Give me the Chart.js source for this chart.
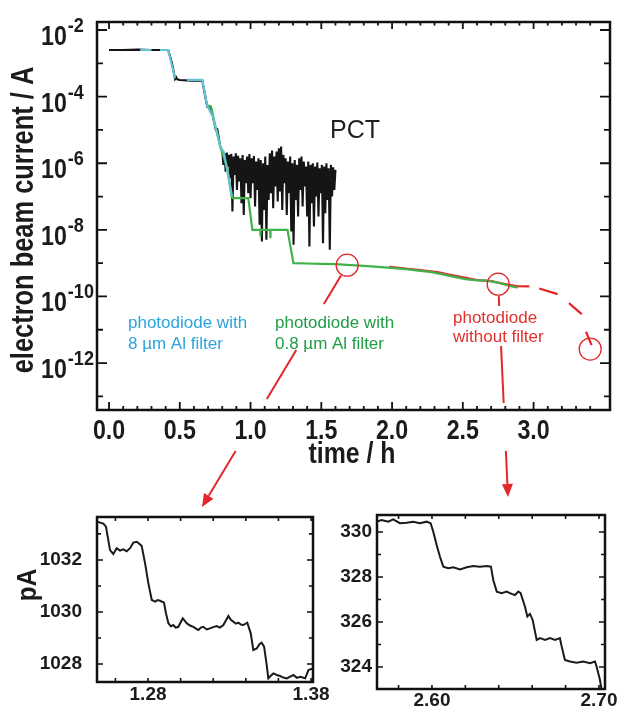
<!DOCTYPE html>
<html>
<head>
<meta charset="utf-8">
<script src="https://cdn.jsdelivr.net/npm/chart.js@4.4.1/dist/chart.umd.min.js"></script>
<style>
  html, body { margin: 0; padding: 0; background: #fff; }
  #wrap { position: relative; width: 618px; height: 708px; overflow: hidden; }
  canvas { position: absolute; }
</style>
</head>
<body>
<div id="wrap">
  <canvas id="main" width="618" height="708" style="left:0;top:0"></canvas>
  <canvas id="zoomA" width="330" height="208" style="left:0;top:500px"></canvas>
  <canvas id="zoomB" width="288" height="208" style="left:330px;top:500px"></canvas>
</div>
<script>
// main plot: time in h, current as power of ten (A)
const pctTime = [0.00, 0.10, 0.20, 0.30, 0.418, 0.445, 0.467, 0.475, 0.482, 0.50, 0.58, 0.659, 0.680, 0.694, 0.715, 0.735, 0.755, 0.765, 0.772, 0.786,
  0.800, 0.808, 0.816, 0.824, 0.832, 0.840, 0.848, 0.856, 0.864, 0.872, 0.880, 0.888, 0.896, 0.904, 0.912, 0.920, 0.928, 0.936, 0.944, 0.952,
  0.960, 0.968, 0.976, 0.984, 0.992, 1.000, 1.008, 1.016, 1.024, 1.032, 1.040, 1.048, 1.056, 1.064, 1.072, 1.080, 1.088, 1.096, 1.104, 1.112,
  1.120, 1.128, 1.136, 1.144, 1.152, 1.160, 1.168, 1.176, 1.184, 1.192, 1.200, 1.208, 1.216, 1.224, 1.232, 1.240, 1.248, 1.256, 1.264, 1.272,
  1.280, 1.288, 1.296, 1.304, 1.312, 1.320, 1.328, 1.336, 1.344, 1.352, 1.360, 1.368, 1.376, 1.384, 1.392, 1.400, 1.408, 1.416, 1.424, 1.432,
  1.440, 1.448, 1.456, 1.464, 1.472, 1.480, 1.488, 1.496, 1.504, 1.512, 1.520, 1.528, 1.536, 1.544, 1.552, 1.560, 1.568, 1.576, 1.584, 1.592, 1.600];
const pctExp = [-2.60, -2.60, -2.59, -2.60, -2.60, -3.00, -3.47, -3.42, -3.48, -3.50, -3.52, -3.52, -4.00, -4.30, -4.30, -4.62, -5.00, -4.98, -5.15, -5.50,
  -5.62, -6.05, -5.70, -6.25, -5.68, -6.10, -5.75, -6.45, -5.72, -7.45, -5.80, -6.35, -5.70, -6.80, -5.78, -6.55, -5.85, -7.20, -5.75, -7.55,
  -5.90, -6.60, -5.80, -6.90, -5.72, -7.05, -5.85, -6.60, -5.78, -7.30, -5.95, -6.80, -5.85, -7.85, -5.90, -8.35, -6.00, -7.40, -5.80, -8.30,
  -6.05, -7.10, -5.70, -6.90, -5.62, -7.35, -5.80, -6.70, -5.65, -7.15, -5.55, -6.85, -5.50, -7.40, -5.75, -6.60, -5.85, -7.55, -5.95, -6.90,
  -5.80, -8.05, -6.00, -8.45, -5.90, -7.10, -6.05, -7.60, -5.85, -6.80, -5.80, -7.30, -5.95, -6.70, -6.10, -7.60, -5.95, -8.50, -6.05, -7.20,
  -6.00, -7.90, -6.10, -7.00, -5.98, -7.60, -6.15, -6.90, -6.05, -8.40, -6.10, -7.50, -6.00, -7.10, -6.15, -8.60, -6.05, -7.00, -6.12, -6.80, -6.20];

const diode8Time = [0.22, 0.30, 0.31, 0.36, 0.418, 0.467, 0.47, 0.55, 0.659, 0.694, 0.735, 0.758, 0.786, 0.800, 0.810, 0.843, 0.869];
const diode8Exp  = [-2.60, -2.60, null, -2.60, -2.60, -3.45, null, -3.50, -3.50, -4.28, -4.62, -5.00, -5.50, -5.60, -5.65, -6.40, -7.00];

const diode08Time = [0.690, 0.720, 0.758, 0.786, 0.836, 0.866, 0.875, 0.984, 1.013, 1.068, 1.070, 1.072, 1.138, 1.140, 1.142, 1.261, 1.303,
  1.40, 1.50, 1.60, 1.683, 1.80, 1.90, 1.99, 2.10, 2.20, 2.27, 2.35, 2.44, 2.52, 2.58, 2.67, 2.72, 2.77, 2.82, 2.86, 2.89];
const diode08Exp  = [-4.25, -4.30, -5.00, -5.50, -6.15, -7.00, -7.05, -7.05, -8.00, -8.00, -8.20, -8.00, -8.00, -8.25, -8.00, -8.00, -9.00,
  -9.01, -9.02, -9.03, -9.05, -9.08, -9.11, -9.14, -9.18, -9.23, -9.26, -9.33, -9.41, -9.48, -9.51, -9.52, -9.56, -9.61, -9.67, -9.71, -9.73];

const noFilterTime = [1.98, 2.05, 2.11, 2.20, 2.32, 2.41, 2.53, 2.60, 2.70, 2.80, 2.88, 2.97];
const noFilterExp  = [-9.11, -9.14, -9.17, -9.21, -9.27, -9.35, -9.45, -9.51, -9.54, -9.63, -9.69, -9.70];
const noFilterTailTime = [2.97, 3.04, 3.17, 3.25, 3.34, 3.37, 3.41];
const noFilterTailExp  = [-9.70, -9.76, -9.93, -10.20, -10.53, -11.06, -11.46];

const circleTime = [1.683, 2.75, 3.40];
const circleExp  = [-9.06, -9.63, -11.58];

const xTickValues = [0, 0.5, 1.0, 1.5, 2.0, 2.5, 3.0];
const xTickLabels = ['0.0', '0.5', '1.0', '1.5', '2.0', '2.5', '3.0'];
const yTickExps = [-2, -4, -6, -8, -10, -12];

// insets: time in h, current in pA
const zoomATime = [1.2487, 1.2526, 1.2542, 1.2567, 1.2587, 1.2608, 1.2628, 1.2648, 1.2669, 1.2690, 1.2710, 1.2731, 1.2746, 1.2761, 1.2782,
  1.2802, 1.2823, 1.2843, 1.2859, 1.2874, 1.2898, 1.2910, 1.2925, 1.2940, 1.2955, 1.2970, 1.2986, 1.3013, 1.3037, 1.3058, 1.3078, 1.3094,
  1.3109, 1.3124, 1.3139, 1.3160, 1.3180, 1.3200, 1.3221, 1.3241, 1.3262, 1.3293, 1.3308, 1.3323, 1.3339, 1.3354, 1.3370, 1.3385, 1.3409,
  1.3430, 1.3446, 1.3467, 1.3482, 1.3497, 1.3512, 1.3528, 1.3538, 1.3553, 1.3569, 1.3590, 1.3610, 1.3630, 1.3651, 1.3672, 1.3692, 1.3713,
  1.3733, 1.3749, 1.3764, 1.3784, 1.3811];
const zoomAPA = [1033.47, 1033.40, 1033.28, 1032.38, 1032.23, 1032.45, 1032.36, 1032.41, 1032.33, 1032.45, 1032.67, 1032.70, 1032.62, 1032.54, 1031.87,
  1031.10, 1030.46, 1030.40, 1030.46, 1030.43, 1030.36, 1029.95, 1029.57, 1029.45, 1029.50, 1029.40, 1029.43, 1029.76, 1029.57, 1029.48, 1029.43, 1029.36,
  1029.31, 1029.40, 1029.43, 1029.33, 1029.37, 1029.42, 1029.46, 1029.40, 1029.50, 1029.85, 1029.70, 1029.63, 1029.55, 1029.59, 1029.52, 1029.50, 1029.59,
  1029.18, 1028.54, 1028.60, 1028.75, 1028.82, 1028.67, 1027.96, 1027.45, 1027.55, 1027.64, 1027.58, 1027.54, 1027.48, 1027.45, 1027.52, 1027.58, 1027.47,
  1027.51, 1027.48, 1027.45, 1027.77, 1027.83];
const zoomATickX = [1.28, 1.38];
const zoomATickLabels = ['1.28', '1.38'];
const zoomATickY = [1028, 1030, 1032];

const zoomBTime = [2.5669, 2.5699, 2.5738, 2.5768, 2.5808, 2.5848, 2.5888, 2.5928, 2.5968, 2.5992,
  2.6008, 2.6028, 2.6048, 2.6068, 2.6098, 2.6128, 2.6168, 2.6208, 2.6247, 2.6287,
  2.6328, 2.6353, 2.6367, 2.6388, 2.6417, 2.6447, 2.6477, 2.6497, 2.6517, 2.6531,
  2.6557, 2.6571, 2.6587, 2.6603, 2.6627, 2.6647, 2.6677, 2.6707, 2.6737, 2.6766,
  2.6777, 2.6796, 2.6826, 2.6866, 2.6906, 2.6946, 2.6976, 2.6986, 2.7006, 2.7016];
const zoomBPA = [330.46, 330.53, 330.46, 330.56, 330.39, 330.41, 330.46, 330.39, 330.46, 330.39,
  330.01, 329.42, 328.90, 328.46, 328.39, 328.43, 328.34, 328.43, 328.49, 328.46,
  328.49, 328.46, 327.87, 327.35, 327.28, 327.35, 327.25, 327.20, 327.35, 327.28,
  326.68, 326.24, 326.36, 326.09, 325.20, 325.28, 325.20, 325.28, 325.20, 325.28,
  324.90, 324.31, 324.24, 324.19, 324.24, 324.17, 324.24, 324.01, 323.42, 322.98];
const zoomBTickX = [2.60, 2.70];
const zoomBTickLabels = ['2.60', '2.70'];
const zoomBTickY = [324, 326, 328, 330];

const FAM = '"Liberation Sans", Arial, sans-serif';
const RED = '#e3262b';
const INK = '#1c1a1a';

const logPts = (xs, es) => xs.map((x, i) => ({ x, y: es[i] == null ? null : Math.pow(10, es[i]) }));
const linPts = (xs, ys) => xs.map((x, i) => ({ x, y: ys[i] }));

function txt(ctx, s, x, y, font, o = {}) {
  ctx.save();
  ctx.font = font;
  ctx.fillStyle = o.color || INK;
  ctx.textAlign = o.align || 'left';
  ctx.textBaseline = o.base || 'alphabetic';
  ctx.translate(x, y);
  if (o.rot) ctx.rotate(o.rot);
  ctx.scale(o.sx || 1, 1);
  ctx.fillText(s, 0, 0);
  ctx.restore();
}

function arrow(ctx, x0, y0, x1, y1, gaps) {
  const dx = x1 - x0, dy = y1 - y0, L = Math.hypot(dx, dy);
  const ux = dx / L, uy = dy / L, head = 13, w = 5.5;
  const xe = x1 - ux * head, ye = y1 - uy * head;
  let segs = [[y0, ye]];
  gaps.forEach(([g0, g1]) => {
    segs = segs.flatMap(([s0, s1]) => {
      if (g1 <= s0 || g0 >= s1) return [[s0, s1]];
      const out = [];
      if (g0 > s0) out.push([s0, g0]);
      if (g1 < s1) out.push([g1, s1]);
      return out;
    });
  });
  const xAt = yy => x0 + dx * (yy - y0) / dy;
  ctx.beginPath();
  segs.forEach(([s0, s1]) => { ctx.moveTo(xAt(s0), s0); ctx.lineTo(xAt(s1), s1); });
  ctx.stroke();
  ctx.beginPath();
  ctx.moveTo(x1, y1);
  ctx.lineTo(xe - uy * w, ye + ux * w);
  ctx.lineTo(xe + uy * w, ye - ux * w);
  ctx.closePath();
  ctx.fill();
}

const mainDecor = {
  id: 'mainDecor',
  afterDraw(chart) {
    const { ctx, chartArea: a, scales: { x, y } } = chart;
    ctx.save();
    // red circles and arrows
    ctx.strokeStyle = RED; ctx.fillStyle = RED; ctx.lineWidth = 1.3;
    const cx = circleTime.map(t => x.getPixelForValue(t));
    const cy = circleExp.map(e => y.getPixelForValue(Math.pow(10, e)));
    cx.forEach((px, i) => { ctx.beginPath(); ctx.arc(px, cy[i], 11, 0, Math.PI * 2); ctx.stroke(); });
    ctx.lineWidth = 2;
    const tips = [[202, 507, [[304, 350], [399, 451]]], [508, 497, [[306, 346], [403, 451]]]];
    tips.forEach(([tx, ty, gaps], i) => {
      const d = Math.hypot(tx - cx[i], ty - cy[i]);
      arrow(ctx, cx[i] + (tx - cx[i]) / d * 12, cy[i] + (ty - cy[i]) / d * 12, tx, ty, gaps);
    });

    // frame and inward ticks
    ctx.strokeStyle = '#111'; ctx.lineWidth = 2.5;
    ctx.strokeRect(a.left, a.top, a.right - a.left, a.bottom - a.top);
    ctx.lineWidth = 1.8;
    ctx.beginPath();
    for (let k = 0; k <= 34; k++) {
      const px = x.getPixelForValue(k / 10), major = k % 5 === 0;
      ctx.moveTo(px, a.bottom); ctx.lineTo(px, a.bottom - (major ? 8 : 4));
      ctx.moveTo(px, a.top); ctx.lineTo(px, a.top + (major ? 7 : 3.5));
    }
    for (let e = -2; e >= -13; e--) {
      const py = y.getPixelForValue(Math.pow(10, e)), len = e % 2 === 0 ? 10 : 6;
      ctx.moveTo(a.left, py); ctx.lineTo(a.left + len, py);
      ctx.moveTo(a.right, py); ctx.lineTo(a.right - len, py);
    }
    ctx.stroke();
    ctx.restore();

    // tick labels
    xTickValues.forEach((v, i) => {
      txt(ctx, xTickLabels[i], x.getPixelForValue(v), 439, `bold 27px ${FAM}`, { align: 'center', sx: 0.86 });
    });
    yTickExps.forEach(e => {
      const py = y.getPixelForValue(Math.pow(10, e));
      ctx.font = `bold 27px ${FAM}`;
      const w = ctx.measureText('10').width * 0.86;
      txt(ctx, '10', 41, py + 15, `bold 27px ${FAM}`, { sx: 0.86 });
      txt(ctx, String(e), 42 + w, py + 2, `bold 21px ${FAM}`, { sx: 0.86 });
    });

    // axis titles
    txt(ctx, 'time / h', 352, 463, `bold 30px ${FAM}`, { align: 'center', sx: 0.83 });
    txt(ctx, 'electron beam current / A', 33, 220, `bold 31px ${FAM}`, { align: 'center', rot: -Math.PI / 2, sx: 0.82 });

    // annotations
    txt(ctx, 'PCT', 330, 138, `25px ${FAM}`, { color: '#231f20' });
    const cyanT = '#2aa5de', greenT = '#1f9d45', redT = '#e2302d';
    txt(ctx, 'photodiode with', 128, 328, `17px ${FAM}`, { color: cyanT });
    txt(ctx, '8 \u00b5m Al filter', 128, 349, `17px ${FAM}`, { color: cyanT });
    txt(ctx, 'photodiode with', 275, 328, `17px ${FAM}`, { color: greenT });
    txt(ctx, '0.8 \u00b5m Al filter', 275, 349, `17px ${FAM}`, { color: greenT });
    txt(ctx, 'photodiode', 453, 323, `17px ${FAM}`, { color: redT });
    txt(ctx, 'without filter', 453, 342, `17px ${FAM}`, { color: redT });
  }
};

const lineDs = (data, color, width, extra = {}) => Object.assign({
  data, borderColor: color, borderWidth: width, pointRadius: 0, fill: false, tension: 0, spanGaps: false
}, extra);

new Chart(document.getElementById('main'), {
  type: 'line',
  data: {
    datasets: [
      lineDs(logPts(diode8Time, diode8Exp), '#63c4d8', 2.2),
      lineDs(logPts(diode08Time, diode08Exp), '#3fb34a', 2.2),
      lineDs(logPts(noFilterTime, noFilterExp), RED, 2.2),
      lineDs(logPts(noFilterTailTime, noFilterTailExp), RED, 2.2, {
        segment: { borderColor: c => (c.p0DataIndex % 2 === 0 ? 'rgba(0,0,0,0)' : RED) }
      }),
      lineDs(logPts(pctTime, pctExp), '#151515', 2.1)
    ]
  },
  options: {
    responsive: false,
    animation: false,
    events: [],
    layout: { padding: { left: 97, right: 8, top: 22, bottom: 298 } },
    scales: {
      x: { type: 'linear', min: -0.085, max: 3.54, display: false },
      y: { type: 'logarithmic', min: 3.9e-14, max: 1.74e-2, display: false }
    },
    plugins: { legend: { display: false }, tooltip: { enabled: false } }
  },
  plugins: [mainDecor]
});

function insetDecor(id, cfg) {
  return {
    id,
    afterDraw(chart) {
      const { ctx, chartArea: a, scales: { x, y } } = chart;
      ctx.save();
      ctx.strokeStyle = '#111'; ctx.lineWidth = 2.5;
      ctx.strokeRect(a.left, a.top, a.right - a.left, a.bottom - a.top);
      ctx.lineWidth = 1.6;
      ctx.beginPath();
      for (let v = cfg.xTickFrom; v <= cfg.xTickTo + 1e-9; v += 0.02) {
        const px = x.getPixelForValue(v);
        ctx.moveTo(px, a.bottom); ctx.lineTo(px, a.bottom - 4);
        ctx.moveTo(px, a.top); ctx.lineTo(px, a.top + 4);
      }
      for (let v = cfg.yTickFrom; v <= cfg.yTickTo; v += 1) {
        const py = y.getPixelForValue(v), len = cfg.yLabels.includes(v) ? 6 : 4;
        ctx.moveTo(a.left, py); ctx.lineTo(a.left + len, py);
        ctx.moveTo(a.right, py); ctx.lineTo(a.right - len, py);
      }
      ctx.stroke();
      ctx.restore();
      cfg.xTicks.forEach((v, i) => {
        txt(ctx, cfg.xLabels[i], x.getPixelForValue(v), cfg.xLabelY, `bold 19px ${FAM}`, { align: 'center', base: 'middle' });
      });
      cfg.yLabels.forEach(v => {
        txt(ctx, String(v), cfg.yLabelX, y.getPixelForValue(v), `bold 19px ${FAM}`, { align: 'right', base: 'middle' });
      });
      if (cfg.title) {
        txt(ctx, cfg.title, 36, 85, `bold 27px ${FAM}`, { align: 'center', rot: -Math.PI / 2, sx: 0.9 });
      }
    }
  };
}

function insetChart(el, data, xr, yr, pad, deco) {
  new Chart(document.getElementById(el), {
    type: 'line',
    data: { datasets: [lineDs(data, INK, 2)] },
    options: {
      responsive: false,
      animation: false,
      events: [],
      layout: { padding: pad },
      scales: {
        x: { type: 'linear', min: xr[0], max: xr[1], display: false },
        y: { type: 'linear', min: yr[0], max: yr[1], display: false }
      },
      plugins: { legend: { display: false }, tooltip: { enabled: false } }
    },
    plugins: [deco]
  });
}

insetChart('zoomA', linPts(zoomATime, zoomAPA), [1.2487, 1.3812], [1027.31, 1033.65],
  { left: 97, right: 17, top: 17, bottom: 26 },
  insetDecor('decoA', { xTicks: zoomATickX, xLabels: zoomATickLabels, xTickFrom: 1.26, xTickTo: 1.38,
    yLabels: zoomATickY, yTickFrom: 1028, yTickTo: 1033, xLabelY: 195, yLabelX: 82, title: 'pA' }));

insetChart('zoomB', linPts(zoomBTime, zoomBPA), [2.5671, 2.7036], [323.02, 330.756],
  { left: 47, right: 13, top: 15, bottom: 19 },
  insetDecor('decoB', { xTicks: zoomBTickX, xLabels: zoomBTickLabels, xTickFrom: 2.58, xTickTo: 2.70,
    yLabels: zoomBTickY, yTickFrom: 324, yTickTo: 330, xLabelY: 201, yLabelX: 42 }));
</script>
</body>
</html>
